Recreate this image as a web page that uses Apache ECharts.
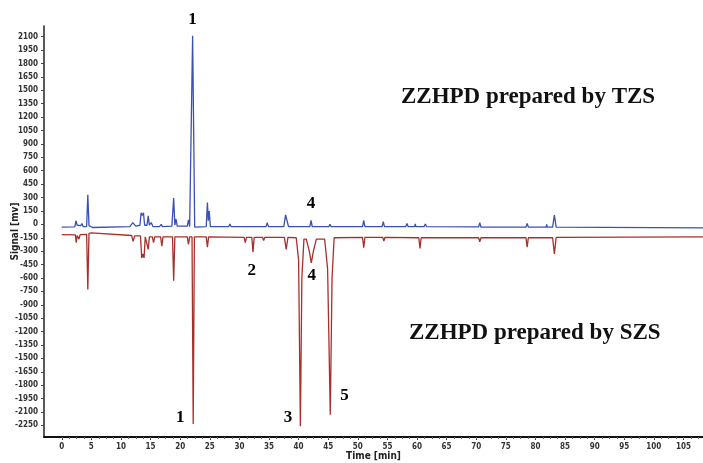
<!doctype html>
<html>
<head>
<meta charset="utf-8">
<style>
  html, body { margin: 0; padding: 0; background: #fff; }
  #main { width: 703px; height: 463px; }
</style>
</head>
<body>
<div id="main"></div>
<script src="https://cdn.jsdelivr.net/npm/echarts@6/dist/echarts.min.js"></script>
<script>
// TZS trace (blue), time [min] / signal [mv]
var tzsTime = [0, 2.2, 2.4, 2.6, 3.2, 3.4, 3.6, 4.2, 4.4, 4.6, 5.2, 11.5, 12.0, 12.5, 13.2, 13.4, 13.6, 13.8, 14.0,
  14.4, 14.6, 14.8, 15.1, 15.4, 16.5, 16.8, 17.0, 18.6, 18.9, 19.1, 19.3, 19.5, 21.2, 21.4, 21.6, 21.9, 22.1, 22.3,
  22.45, 24.4, 24.6, 24.75, 24.9, 25.1, 28.2, 28.4, 28.6, 34.5, 34.7, 34.9, 37.5, 37.8, 38.0, 38.3, 41.9, 42.1,
  42.3, 45.1, 45.3, 45.5, 50.8, 51.0, 51.2, 54.1, 54.3, 54.5, 58.1, 58.3, 58.5, 59.6, 59.7, 59.8, 61.2, 61.4, 61.6,
  70.4, 70.6, 70.8, 78.4, 78.6, 78.8, 81.8, 81.9, 82.0, 82.9, 83.2, 83.5, 108.5];
var tzsSignal = [-30, -28, 40, -10, -15, 10, -25, -25, 330, -15, -35, -25, 20, -20, -10, 130, 100, 130, -10,
  -10, 95, -10, 20, -25, -25, 0, -25, -20, 295, -10, 60, -20, -20, 50, -25, -25, 2110, 900,
  -30, -25, 245, 40, 150, -25, -25, 5, -25, -25, 20, -25, -25, 105, 100, -25, -25, 45,
  -25, -25, 0, -25, -25, 45, -25, -25, 30, -25, -25, 10, -25, -25, 5, -25, -25, 5, -25,
  -28, 20, -30, -30, 10, -30, -30, 0, -30, -30, 105, -30, -40];

// SZS trace (red)
var szsTime = [0, 2.3, 2.45, 2.6, 2.75, 2.9, 3.1, 4.2, 4.4, 4.6, 5.0, 11.8, 12.06, 12.3, 13.3, 13.5, 13.7, 13.9,
  14.1, 14.4, 14.6, 14.8, 15.3, 15.5, 15.7, 16.7, 16.9, 17.1, 18.7, 18.9, 19.1, 21.2, 21.4, 21.6, 22.0, 22.2, 22.4,
  24.4, 24.6, 24.8, 30.8, 31.0, 31.2, 32.1, 32.3, 32.5, 33.9, 34.1, 34.3, 37.6, 37.9, 38.2, 39.6, 40.0, 40.3,
  40.55, 40.9, 41.3, 41.8, 42.15, 42.5, 43.0, 44.4, 44.9, 45.35, 45.65, 46.0, 50.8, 51.0, 51.2, 54.2, 54.4, 54.6,
  60.3, 60.5, 60.7, 68.2, 68.3, 68.4, 70.4, 70.6, 70.8, 74.1, 74.2, 74.3, 78.4, 78.6, 78.8, 82.9, 83.2, 83.5, 108.5];
var szsSignal = [-115, -118, -206, -125, -125, -165, -115, -112, -730, -100, -95, -125, -190, -128, -130, -375, -330, -375,
  -140, -140, -280, -140, -140, -205, -140, -140, -245, -140, -140, -630, -140, -140, -225, -140, -140, -2235, -140,
  -140, -255, -140, -145, -205, -145, -145, -311, -145, -145, -180, -145, -145, -280, -145, -150, -400, -2260,
  -600, -165, -165, -300, -430, -300, -165, -165, -500, -2130, -600, -150, -145, -262, -145, -145, -187, -145,
  -150, -270, -150, -150, -165, -150, -150, -195, -150, -150, -170, -150, -150, -255, -150, -150, -330, -145, -140];

// peak numbers: [text, time, signal]
var tzsPeaks = [['1', 22.1, 2290], ['4', 42.1, 234]];
var szsPeaks = [['2', 32.1, -513], ['4', 42.2, -569], ['1', 20.0, -2160], ['3', 38.2, -2160], ['5', 47.75, -1913]];

var yTicks = [];
for (var v = -2250; v <= 2100; v += 150) yTicks.push(v);
var xTicks = [];
for (var t = 0; t <= 105; t += 5) xTicks.push(t);
var xMinor = [];
for (var m = 0; m <= 108; m += 1.25) xMinor.push(m);

function pairs(xs, ys) {
  return xs.map(function (x, i) { return [x, ys[i]]; });
}
function labels(list) {
  return list.map(function (p) { return { value: [p[1], p[2]], name: p[0] }; });
}

var chart = echarts.init(document.getElementById('main'));
var narrow = "'Liberation Sans Narrow', 'DejaVu Sans Condensed', sans-serif";
var tickFont = { fontFamily: narrow, fontWeight: 'bold', fontSize: 8, color: '#333', formatter: function (v) { return String(v); } };
var numLabel = {
  show: true, position: 'inside', formatter: '{b}',
  fontFamily: "'Liberation Serif', serif", fontWeight: 'bold', fontSize: 17, color: '#000',
  textBorderWidth: 0, opacity: 1
};

chart.setOption({
  animation: false,
  grid: { left: 44, right: 0, top: 26, bottom: 26, outerBoundsMode: 'none', containLabel: false },
  xAxis: [{
    type: 'value', min: -3, max: 108.3,
    name: 'Time [min]', nameLocation: 'middle', nameGap: 14, nameMoveOverlap: false,
    nameTextStyle: { fontFamily: narrow, fontWeight: 'bold', fontSize: 10, color: '#222' },
    axisLine: { onZero: false, lineStyle: { color: '#111', width: 2 } },
    axisTick: { customValues: xTicks, length: 3, lineStyle: { color: '#333' } },
    axisLabel: Object.assign({ customValues: xTicks, margin: 6 }, tickFont),
    splitLine: { show: false }
  }, {
    type: 'value', min: -3, max: 108.3, position: 'bottom',
    axisLine: { show: false, onZero: false },
    axisTick: { customValues: xMinor, length: 2, lineStyle: { color: '#666' } },
    axisLabel: { show: false },
    splitLine: { show: false }
  }],
  yAxis: {
    type: 'value', min: -2380, max: 2220,
    name: 'Signal [mv]', nameLocation: 'middle', nameGap: 24, nameMoveOverlap: false,
    nameTextStyle: { fontFamily: narrow, fontWeight: 'bold', fontSize: 10, color: '#222' },
    axisLine: { show: true, onZero: false, lineStyle: { color: '#222', width: 1.5 } },
    axisTick: { show: true, customValues: yTicks, length: 3, lineStyle: { color: '#444' } },
    axisLabel: Object.assign({ customValues: yTicks, margin: 6 }, tickFont),
    splitLine: { show: false }
  },
  series: [{
    type: 'line', name: 'TZS', data: pairs(tzsTime, tzsSignal),
    showSymbol: false, lineStyle: { color: '#3a50b4', width: 1.3 }, z: 3
  }, {
    type: 'line', name: 'SZS', data: pairs(szsTime, szsSignal),
    showSymbol: false, lineStyle: { color: '#a8302c', width: 1.3 }, z: 2
  }, {
    type: 'scatter', data: labels(tzsPeaks.concat(szsPeaks)), symbolSize: 2,
    itemStyle: { color: 'rgba(0,0,0,0)' }, label: numLabel, clip: false, silent: true,
    labelLayout: { hideOverlap: false }
  }],
  graphic: [{
    type: 'text', left: 401, top: 86,
    style: { text: 'ZZHPD prepared by TZS', font: "bold 23px 'Liberation Serif', serif", fill: '#111' }
  }, {
    type: 'text', left: 409, top: 322,
    style: { text: 'ZZHPD prepared by SZS', font: "bold 23px 'Liberation Serif', serif", fill: '#111' }
  }]
});

window.onresize = chart.resize;
</script>
</body>
</html>
